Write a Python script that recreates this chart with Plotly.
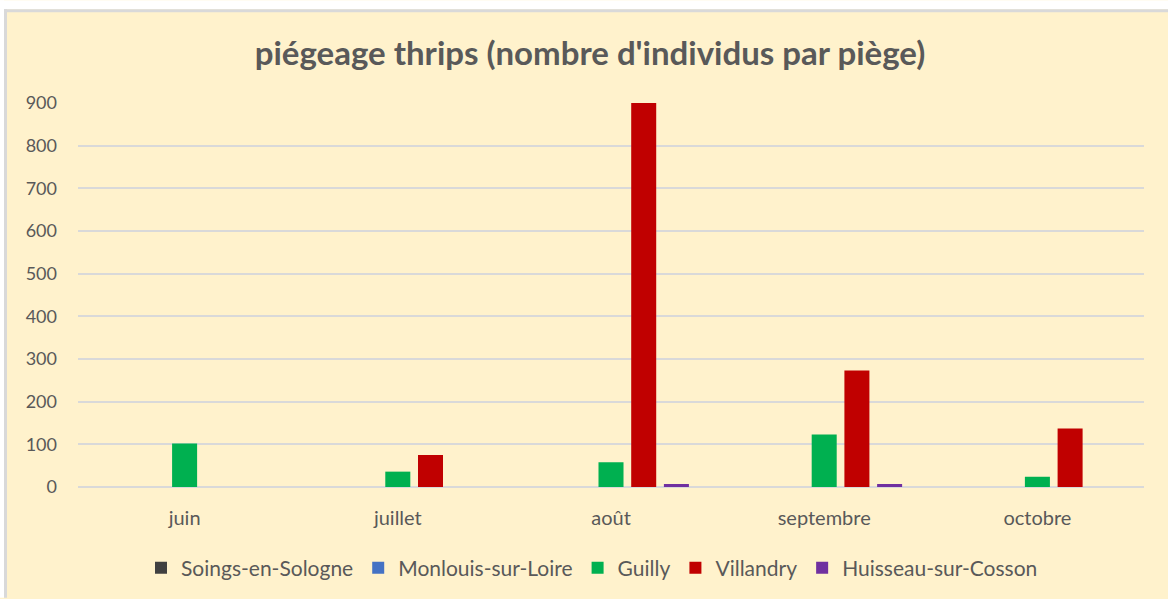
import plotly.graph_objects as go

months = ["juin", "juillet", "août", "septembre", "octobre"]
soings = [0, 0, 0, 0, 0]
monlouis = [0, 0, 0, 0, 0]
guilly = [102, 36, 58, 123, 24]
villandry = [0, 75, 900, 273, 137]
huisseau = [0, 0, 7, 7, 0]

series = [
    ("Soings-en-Sologne", soings, "#404040"),
    ("Monlouis-sur-Loire", monlouis, "#4472C4"),
    ("Guilly", guilly, "#00B050"),
    ("Villandry", villandry, "#C00000"),
    ("Huisseau-sur-Cosson", huisseau, "#7030A0"),
]

W, H = 1168, 599
L, R, T, B = 78, 24, 103, 111
PW, PH = W - L - R, H - T - B

def px2x(px):
    return (px - L) / PW

def py2y(py):
    return (H - B - py) / PH

TXT = "#595959"
FONT = "Lato"

fig = go.Figure()
for name, vals, col in series:
    fig.add_trace(go.Bar(
        x=months, y=vals, name=name,
        marker=dict(color=col, line=dict(width=0)),
    ))

shapes = [
    dict(type="rect", xref="paper", yref="paper", x0=px2x(0), x1=px2x(W), y0=py2y(0), y1=py2y(9),
         fillcolor="white", line=dict(width=0), layer="below"),
    dict(type="rect", xref="paper", yref="paper", x0=px2x(0), x1=px2x(4), y0=py2y(0), y1=py2y(H),
         fillcolor="white", line=dict(width=0), layer="below"),
    dict(type="rect", xref="paper", yref="paper", x0=px2x(4), x1=px2x(W), y0=py2y(9), y1=py2y(12),
         fillcolor="#D9D9D9", line=dict(width=0), layer="below"),
    dict(type="rect", xref="paper", yref="paper", x0=px2x(4), x1=px2x(7), y0=py2y(9), y1=py2y(H),
         fillcolor="#D9D9D9", line=dict(width=0), layer="below"),
]

fig.update_layout(
    width=W, height=H, autosize=False,
    margin=dict(l=L, r=R, t=T, b=B, pad=0),
    paper_bgcolor="#FFF2CC", plot_bgcolor="#FFF2CC",
    barmode="group", bargap=0.233, bargroupgap=0.235,
    title=dict(text="<b>piégeage thrips (nombre d'individus par piège)</b>",
               x=px2x(590), xref="paper", xanchor="center",
               y=1 - 53 / H, yref="container", yanchor="middle",
               font=dict(family=FONT, size=33, color=TXT)),
    font=dict(family=FONT, size=19, color=TXT),
    shapes=shapes,
    legend=dict(orientation="h", x=px2x(592), xanchor="center", y=py2y(568), yanchor="middle",
                font=dict(family=FONT, size=21, color=TXT), bgcolor="rgba(0,0,0,0)",
                itemsizing="constant"),
    xaxis=dict(showgrid=False, showline=False, ticks="", ticklabelstandoff=17,
               tickfont=dict(family=FONT, size=20, color=TXT)),
    yaxis=dict(range=[0, 900], dtick=100, showgrid=True, gridcolor="#D9D9D9", gridwidth=1.6,
               zeroline=True, zerolinecolor="#D9D9D9", zerolinewidth=1.6,
               showline=False, ticks="", ticklabelstandoff=20,
               tickfont=dict(family=FONT, size=18, color=TXT)),
)

fig.write_html("out.html", config={"displayModeBar": False},
               post_script="document.body.style.margin='0';document.body.style.overflow='hidden';")
